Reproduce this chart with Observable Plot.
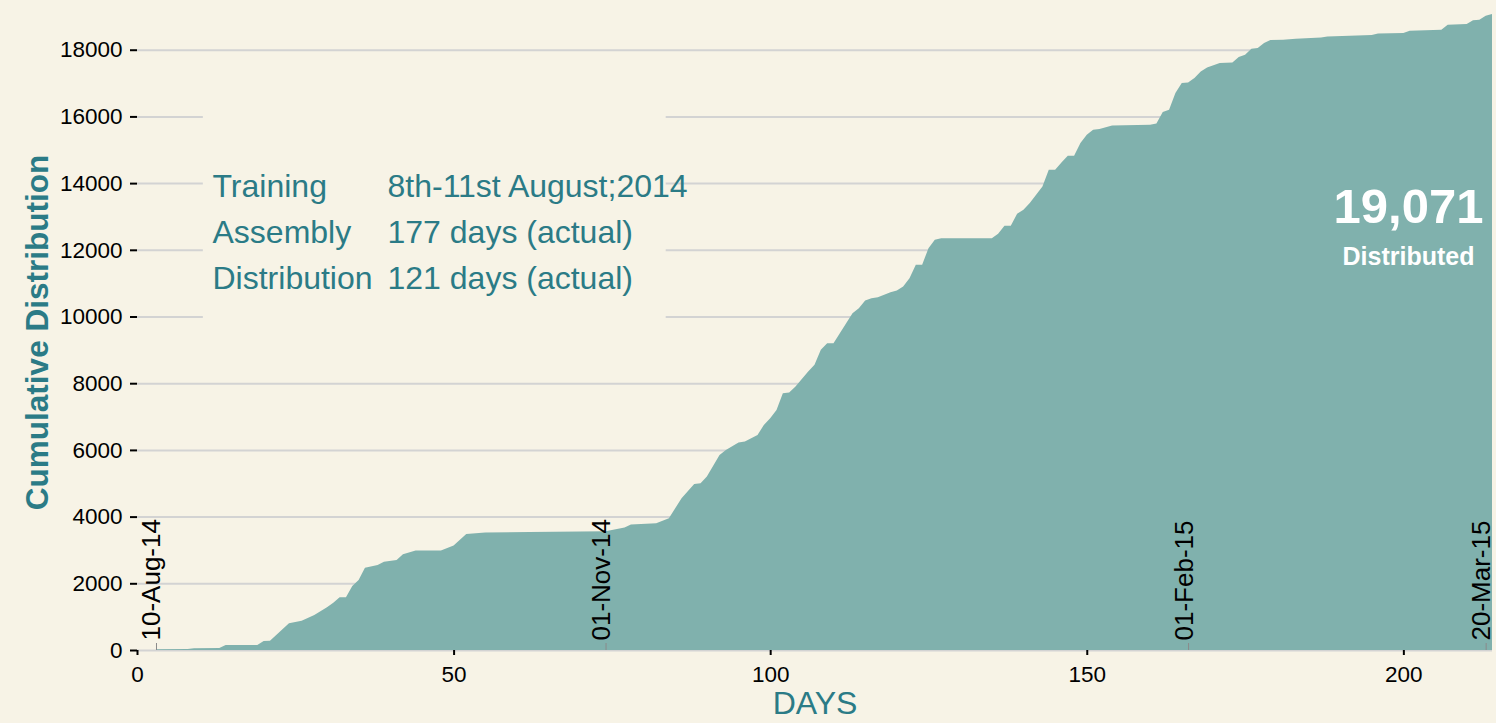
<!DOCTYPE html>
<html>
<head>
<meta charset="utf-8">
<script src="https://cdn.jsdelivr.net/npm/d3@7"></script>
<script src="https://cdn.jsdelivr.net/npm/@observablehq/plot@0.6"></script>
<style>
  html, body { margin: 0; padding: 0; background: #F7F3E6; }
  #chart svg { display: block; }
</style>
</head>
<body>
<div id="chart"></div>
<script>
// ---- data ----
const days = [3, 8, 9, 13, 14, 19, 20, 21, 24, 26, 28, 30, 31, 32, 33, 34, 35, 36, 38, 39, 41, 42, 44, 48, 50, 52, 55, 62, 74, 75, 77, 78, 82, 84, 86, 88, 89, 90, 92, 93, 95, 96, 98, 99, 100, 101, 102, 103, 104, 106, 107, 108, 109, 110, 111, 112, 113, 114, 115, 116, 117, 119, 120, 121, 122, 123, 124, 125, 126, 127, 135, 136, 137, 138, 139, 140, 141, 142, 143, 144, 145, 146, 147, 148, 149, 150, 151, 152, 154, 160, 161, 162, 163, 164, 165, 166, 167, 168, 169, 171, 173, 174, 175, 176, 177, 178, 179, 181, 183, 187, 188, 195, 196, 200, 201, 206, 207, 210, 211, 212, 213, 214];
const cumulative = [20, 30, 50, 60, 150, 150, 270, 280, 800, 880, 1050, 1280, 1420, 1580, 1580, 1920, 2100, 2470, 2550, 2650, 2700, 2870, 2980, 2980, 3130, 3480, 3520, 3540, 3560, 3600, 3670, 3760, 3800, 3950, 4550, 4980, 5000, 5200, 5850, 6000, 6220, 6250, 6450, 6750, 6950, 7200, 7700, 7720, 7900, 8350, 8550, 9000, 9200, 9200, 9500, 9800, 10100, 10250, 10480, 10550, 10580, 10730, 10780, 10900, 11150, 11550, 11550, 12050, 12300, 12350, 12350, 12480, 12720, 12720, 13080, 13200, 13400, 13650, 13900, 14400, 14400, 14620, 14820, 14820, 15200, 15450, 15600, 15620, 15730, 15750, 15790, 16130, 16200, 16700, 17000, 17020, 17150, 17350, 17470, 17600, 17620, 17780, 17850, 18030, 18050, 18200, 18290, 18300, 18330, 18370, 18400, 18440, 18490, 18500, 18570, 18600, 18750, 18770, 18880, 18900, 19020, 19071];

const markerDays = [3, 74, 166, 213];
const markerLabels = ["10-Aug-14", "01-Nov-14", "01-Feb-15", "20-Mar-15"];

const xTicks = [0, 50, 100, 150, 200];
const yTicks = [0, 2000, 4000, 6000, 8000, 10000, 12000, 14000, 16000, 18000];

const annotLabels = ["Training", "Assembly", "Distribution"];
const annotValues = ["8th-11st August;2014", "177 days (actual)", "121 days (actual)"];

const yTitle = "Cumulative Distribution";
const xTitle = "DAYS";
const totalLabel = "Distributed";

// ---- build ----
const data = days.map((d, i) => ({day: d, value: cumulative[i]}));
const total = cumulative[cumulative.length - 1];
const markers = markerDays.map((d, i) => ({day: d, label: markerLabels[i]}));

const BG = "#F7F3E6";
const AREA = "#80B1AD";
const TEAL = "#2B7B86";
const FONT = "'Liberation Sans', Arial, Helvetica, sans-serif";

// annotation box region (data units) that masks the grid behind the text block
const box = [{x1: 10.4, x2: 83.5, y1: 9650, y2: 16300}];

const annotMarks = [];
annotLabels.forEach((lab, i) => {
  annotMarks.push(Plot.text([lab], {
    frameAnchor: "top-left", dx: 75, dy: 172 + i * 46,
    textAnchor: "start", lineAnchor: "middle", fontSize: 32, fill: TEAL, fontFamily: FONT
  }));
  annotMarks.push(Plot.text([annotValues[i]], {
    frameAnchor: "top-left", dx: 250, dy: 172 + i * 46,
    textAnchor: "start", lineAnchor: "middle", fontSize: 32, fill: TEAL, fontFamily: FONT
  }));
});

const chart = Plot.plot({
  width: 1496,
  height: 723,
  marginLeft: 137,
  marginRight: 4,
  marginTop: 14,
  marginBottom: 73,
  style: {background: BG, fontFamily: FONT},
  x: {domain: [0, 214]},
  y: {domain: [0, total]},
  marks: [
    Plot.ruleY(yTicks, {stroke: "#D3D3D3", strokeWidth: 2}),
    Plot.rect(box, {x1: "x1", x2: "x2", y1: "y1", y2: "y2", fill: BG}),
    Plot.areaY(data, {x: "day", y: "value", fill: AREA, curve: "linear"}),
    Plot.ruleX(markers, {x: "day", insetTop: 629, stroke: "#8A8A8A", strokeWidth: 1}),
    Plot.text(markers, {
      x: "day", y: 0, text: "label", rotate: -90,
      textAnchor: "start", lineAnchor: "bottom", dx: 4, dy: -10,
      fontSize: 26, fill: "black", fontFamily: FONT
    }),
    Plot.axisY({
      ticks: yTicks, tickSize: 7, tickPadding: 8, fontSize: 22.5,
      strokeWidth: 2, label: null, tickFormat: d => String(d), fill: "black", stroke: "black"
    }),
    Plot.axisX({
      ticks: xTicks, tickSize: 5, tickPadding: 11, fontSize: 22.5,
      strokeWidth: 2, label: null, tickFormat: d => String(d), fill: "black", stroke: "black"
    }),
    Plot.text([yTitle], {
      frameAnchor: "left", rotate: -90, dx: -100,
      textAnchor: "middle", lineAnchor: "middle",
      fontSize: 31.5, fontWeight: "bold", fill: TEAL, fontFamily: FONT
    }),
    Plot.text([xTitle], {
      frameAnchor: "bottom", dy: 53,
      textAnchor: "middle", lineAnchor: "middle",
      fontSize: 32, fill: TEAL, fontFamily: FONT
    }),
    ...annotMarks,
    Plot.text([d3.format(",")(total)], {
      frameAnchor: "top-right", dx: -84, dy: 193,
      textAnchor: "middle", lineAnchor: "middle",
      fontSize: 49, fontWeight: "bold", fill: "white", fontFamily: FONT
    }),
    Plot.text([totalLabel], {
      frameAnchor: "top-right", dx: -84, dy: 242,
      textAnchor: "middle", lineAnchor: "middle",
      fontSize: 25, fontWeight: "bold", fill: "white", fontFamily: FONT
    })
  ]
});

document.getElementById("chart").appendChild(chart);
</script>
</body>
</html>
